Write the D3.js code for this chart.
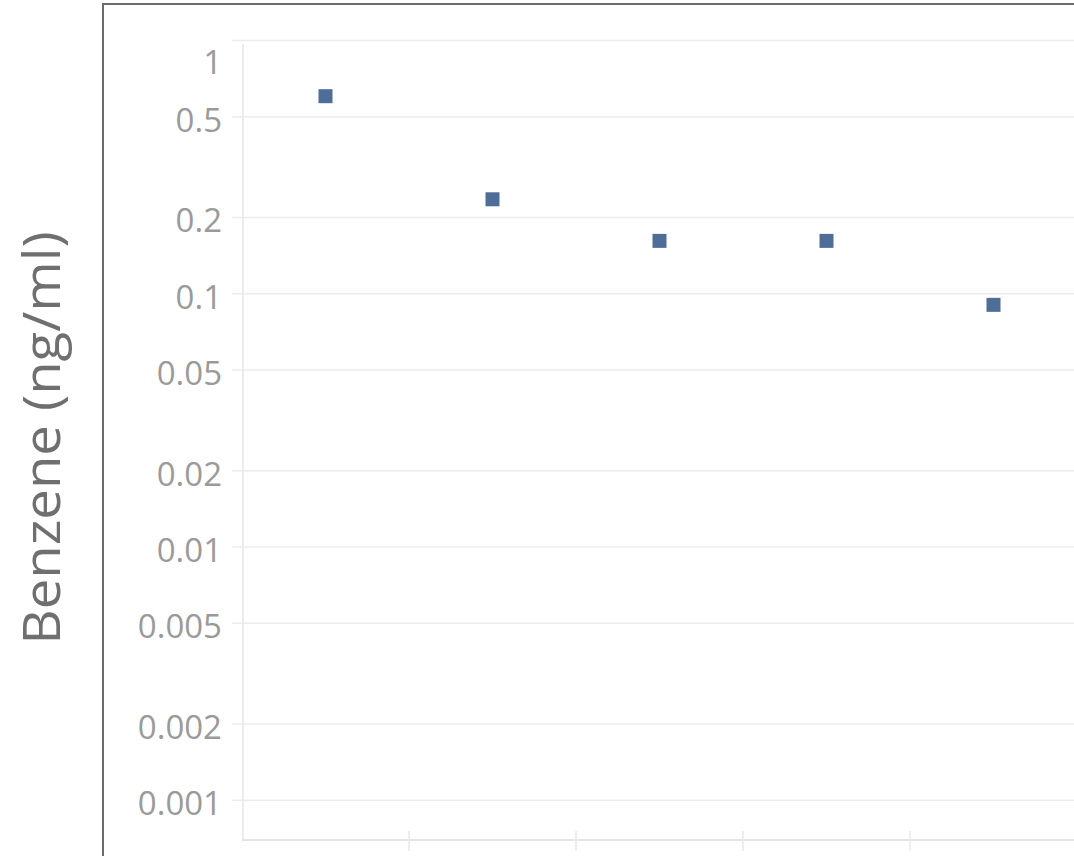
<!DOCTYPE html>
<html>
<head>
<meta charset="utf-8">
<script src="https://cdn.jsdelivr.net/npm/d3@7"></script>
<style>
  html, body { margin: 0; padding: 0; background: #ffffff; overflow: hidden; }
  svg { display: block; }
</style>
</head>
<body>
<div id="chart"></div>
<script>
// values
const categories = ['S1', 'S2', 'S3', 'S4', 'S5'];
const benzene = [0.6, 0.235, 0.161, 0.161, 0.09];
const tickValues = [1, 0.5, 0.2, 0.1, 0.05, 0.02, 0.01, 0.005, 0.002, 0.001];
const yLabel = 'Benzene (ng/ml)';

const W = 1074, H = 856;
const plot = { left: 242, right: 1077, top: 40, bottom: 839 };

const svg = d3.select('#chart')
  .append('svg')
  .attr('width', W)
  .attr('height', H)
  .style('background-color', '#ffffff');

const x = d3.scaleBand()
  .domain(categories)
  .range([plot.left, plot.right]);

const y = d3.scaleLog()
  .domain([0.0007, 1])
  .range([plot.bottom, plot.top]);

// gridlines + tick labels
const yAxis = svg.append('g')
  .attr('transform', 'translate(232,0)')
  .call(d3.axisLeft(y)
    .tickValues(tickValues)
    .tickFormat(d3.format('~g'))
    .tickSize(-(W - 232))
    .tickPadding(10));

yAxis.select('.domain').remove();
yAxis.selectAll('line').attr('stroke', '#ececec').attr('stroke-width', 1.5);
yAxis.selectAll('text')
  .attr('fill', '#9a9a9a')
  .style('font-family', '"Open Sans", sans-serif')
  .style('font-size', '33px')
  .attr('dy', '0.45em')
  // the top label is kept inside the pane, as the original tool does
  .attr('y', d => Math.max(0, 59 - y(d)));

// pane axis lines
svg.append('line')
  .attr('x1', plot.left + 1).attr('x2', plot.left + 1)
  .attr('y1', plot.top + 4).attr('y2', plot.bottom + 2)
  .attr('stroke', '#e6e6e6').attr('stroke-width', 1.5);

svg.append('line')
  .attr('x1', plot.left).attr('x2', W)
  .attr('y1', plot.bottom + 1).attr('y2', plot.bottom + 1)
  .attr('stroke', '#e4e4e4').attr('stroke-width', 2);

// category separators (labels fall below the cropped picture)
svg.append('g')
  .selectAll('line')
  .data(categories.slice(1))
  .join('line')
  .attr('x1', d => x(d)).attr('x2', d => x(d))
  .attr('y1', plot.bottom - 8).attr('y2', plot.bottom + 12)
  .attr('stroke', '#e8e8e8')
  .attr('stroke-width', 1.5);

// points
const size = 14;
svg.append('g')
  .selectAll('rect')
  .data(benzene)
  .join('rect')
  .attr('x', (d, i) => x(categories[i]) + x.bandwidth() / 2 - size / 2)
  .attr('y', d => y(d) - size / 2)
  .attr('width', size)
  .attr('height', size)
  .attr('fill', '#4e6e97');

// y-axis title
svg.append('text')
  .attr('transform', 'translate(60,438) rotate(-90)')
  .attr('text-anchor', 'middle')
  .attr('fill', '#6f6f6f')
  .style('font-family', '"Open Sans", sans-serif')
  .style('font-size', '52px')
  .attr('textLength', 413)
  .attr('lengthAdjust', 'spacingAndGlyphs')
  .text(yLabel);

// outer frame
svg.append('rect')
  .attr('x', 103).attr('y', 4)
  .attr('width', W).attr('height', H)
  .attr('fill', 'none')
  .attr('stroke', '#6b6b6b')
  .attr('stroke-width', 2);
</script>
</body>
</html>
